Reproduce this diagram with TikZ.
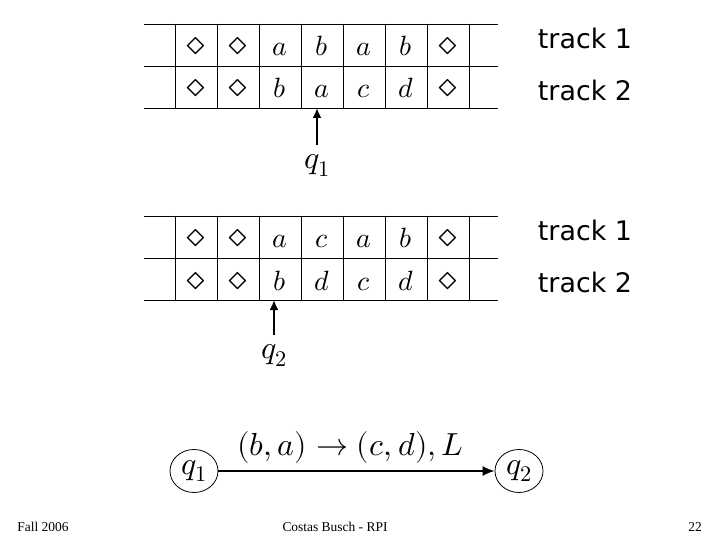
\documentclass[tikz,border=0pt]{standalone}
\usepackage{fontspec}
\usepackage{unicode-math}
\usepackage{graphicx}
\newfontfamily\trackfont{DejaVu Sans}
\newfontfamily\footfont{Liberation Serif}
\newcommand\dia{\scalebox{1.35}{$\diamond$}}
\usetikzlibrary{arrows.meta,positioning,shapes.geometric}

\begin{document}
\begin{tikzpicture}[x=1bp,y=-1bp,
  tape/.style={line width=0.8bp},
  sym/.style={anchor=base,inner sep=0pt,font=\fontsize{28}{30}\selectfont},
  lab/.style={inner sep=1bp,font=\fontsize{32}{36}\selectfont},
  trk/.style={font=\trackfont\fontsize{27}{30}\selectfont},
  head/.style={-{Latex[length=10bp,width=9bp]},line width=2.4bp},
  state/.style={draw,ellipse,line width=0.8bp,minimum width=48bp,minimum height=43bp,inner sep=0pt,font=\fontsize{32}{36}\selectfont},
  foot/.style={font=\footfont\fontsize{13.5}{16}\selectfont}]
  \useasboundingbox (0,0) rectangle (720,540);

  \foreach \t in {24,216} {
    \foreach \r in {0,42,84} \draw[tape] (144,\t+\r) -- (498,\t+\r);
    \foreach \k in {0,...,7} \draw[tape] (175+42*\k,\t) -- (175+42*\k,\t+84);
  }

  \foreach \s [count=\i] in {\dia,\dia,a,b,a,b,\dia}
    \node[sym] (ta\i) at (154+42*\i,56) {$\s$};
  \foreach \s [count=\i] in {\dia,\dia,b,a,c,d,\dia}
    \node[sym] (tb\i) at (154+42*\i,98) {$\s$};
  \foreach \s [count=\i] in {\dia,\dia,a,c,a,b,\dia}
    \node[sym] (tc\i) at (154+42*\i,248) {$\s$};
  \foreach \s [count=\i] in {\dia,\dia,b,d,c,d,\dia}
    \node[sym] (td\i) at (154+42*\i,290) {$\s$};

  \node[trk] (tr1a) at (585,38) {track 1};
  \node[trk] (tr2a) at (585,90) {track 2};
  \node[trk] (tr1b) at (585,230) {track 1};
  \node[trk] (tr2b) at (585,282) {track 2};

  \coordinate (h1) at (317,108);
  \node[lab,below=45bp of h1] (q1t) {$q_1$};
  \draw[head,shorten <=8bp] (q1t.north -| h1) -- (h1);

  \coordinate (h2) at (274,300);
  \node[lab,below=43bp of h2] (q2t) {$q_2$};
  \draw[head,shorten <=8bp] (q2t.north -| h2) -- (h2);

  \node[state] (s1) at (194,471) {$q_1$};
  \node[state] (s2) at (519,471) {$q_2$};
  \draw[-{Latex[length=12bp,width=10bp]},line width=1.6bp] (s1) -- node[above=3bp,xshift=-6bp,font=\fontsize{32}{36}\selectfont] (rule) {$(b,a)\to(c,d),L$} (s2);

  \node[foot] (fall) at (43,527) {Fall 2006};
  \node[foot] (auth) at (335,527) {Costas Busch - RPI};
  \node[foot] (page) at (695,527) {22};
\end{tikzpicture}
\end{document}
